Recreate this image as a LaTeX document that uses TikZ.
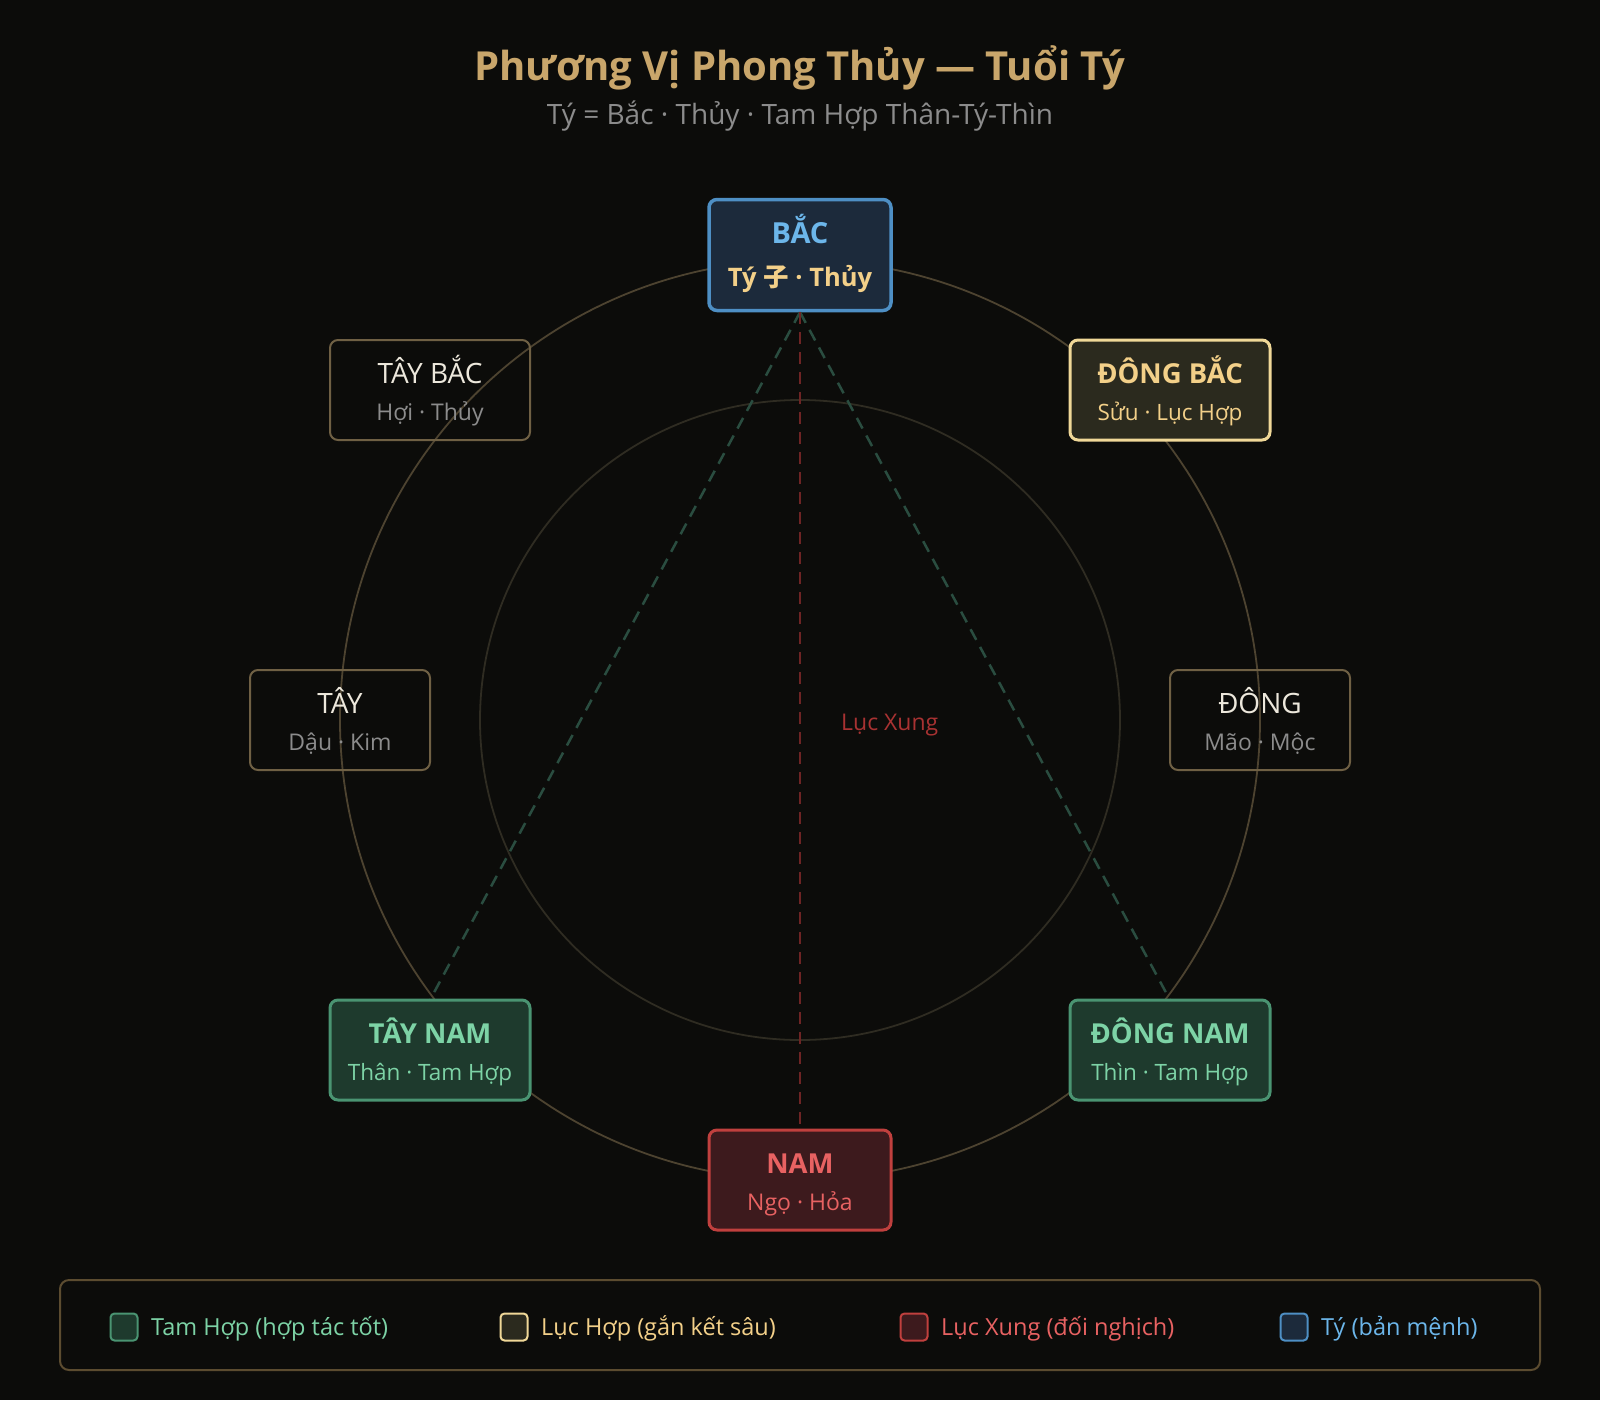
\documentclass[tikz,border=0pt]{standalone}
\usepackage{fontspec}
\setmainfont{Open Sans}
\newfontfamily\cjk{Noto Sans CJK SC}
\definecolor{bg}{HTML}{0C0C0A}
\definecolor{gold}{HTML}{C9A66B}
\definecolor{grayt}{HTML}{8C8C8C}
\definecolor{plainstroke}{HTML}{6F6044}
\definecolor{plaintext}{HTML}{EDE8DC}
\definecolor{outerc}{HTML}{4D4330}
\definecolor{innerc}{HTML}{2F2C22}
\definecolor{gfill}{HTML}{1E3A2D}
\definecolor{gstroke}{HTML}{4A9472}
\definecolor{gtext}{HTML}{7DD3A6}
\definecolor{yfill}{HTML}{2B2A1E}
\definecolor{ystroke}{HTML}{F0D898}
\definecolor{ytext}{HTML}{F3D089}
\definecolor{rfill}{HTML}{3D1A1D}
\definecolor{rstroke}{HTML}{C0403E}
\definecolor{rtext}{HTML}{E86262}
\definecolor{bfill}{HTML}{1C2A3B}
\definecolor{bstroke}{HTML}{4E8FC4}
\definecolor{btext}{HTML}{6CB6EA}
\definecolor{tamline}{HTML}{2A4D40}
\definecolor{xungline}{HTML}{6E2424}
\definecolor{xunglabel}{HTML}{A83232}
\definecolor{legstroke}{HTML}{5C4C30}
\tikzset{
  anybox/.style={rounded corners=8pt, inner sep=0pt},
  plain box/.style={anybox, draw=plainstroke, line width=2pt},
  plain title/.style={text=plaintext, font=\fontsize{28}{32}\selectfont},
  plain sub/.style={text=grayt, font=\fontsize{23}{27}\selectfont},
  green box/.style={anybox, draw=gstroke, fill=gfill, line width=3pt},
  green title/.style={text=gtext, font=\fontsize{27.5}{32}\selectfont\bfseries},
  green sub/.style={text=gtext, font=\fontsize{22.5}{26}\selectfont},
  yellow box/.style={anybox, draw=ystroke, fill=yfill, line width=3pt},
  yellow title/.style={text=ytext, font=\fontsize{27.5}{32}\selectfont\bfseries},
  yellow sub/.style={text=ytext, font=\fontsize{22.5}{26}\selectfont},
  red box/.style={anybox, draw=rstroke, fill=rfill, line width=3pt},
  red title/.style={text=rtext, font=\fontsize{27.5}{32}\selectfont\bfseries},
  red sub/.style={text=rtext, font=\fontsize{23}{27}\selectfont},
  blue box/.style={anybox, draw=bstroke, fill=bfill, line width=3.5pt},
  blue title/.style={text=btext, font=\fontsize{29}{33}\selectfont\bfseries},
  blue sub/.style={text=ytext, font=\fontsize{25.5}{29}\selectfont\bfseries},
  txt/.style={anchor=base, inner sep=0pt},
  tamhop/.style={draw=tamline, line width=2.5pt, dash pattern=on 12pt off 8pt},
  xung/.style={draw=xungline, line width=2.5pt, dash pattern=on 12pt off 8pt},
  legsq/.style={rounded corners=4pt, line width=2pt, minimum width=27pt, minimum height=27pt, inner sep=0pt},
  legtxt/.style={anchor=base west, inner sep=0pt, font=\fontsize{23.5}{27}\selectfont},
}
\newcommand\dirbox[8]{%
  \node[#6 box, minimum width=#4pt, minimum height=#5pt] (#1) at (#2,#3) {};
  \node[txt, #6 title] (#1-t) at ([yshift=7pt]#1.center) {#7};
  \node[txt, #6 sub] (#1-s) at ([yshift=-30pt]#1.center) {#8};
}
\begin{document}
\begin{tikzpicture}[x=1pt,y=-1pt]
\fill[bg] (0,0) rectangle (1600,1400);
\useasboundingbox (0,0) rectangle (1600,1400);

% title
\node[txt, text=gold, font=\fontsize{40}{46}\selectfont\bfseries] (title) at (800,80) {Phương Vị Phong Thủy — Tuổi Tý};
\node[txt, text=grayt, font=\fontsize{28}{32}\selectfont] (subtitle) at (800,124) {Tý = Bắc · Thủy · Tam Hợp Thân-Tý-Thìn};

% circles
\coordinate (ctr) at (800,720);
\draw[outerc, line width=1.8pt] (ctr) circle[radius=460];
\draw[innerc, line width=1.8pt] (ctr) circle[radius=320];

% nodes (boxes)
\node[blue box, minimum width=182pt, minimum height=111pt] (bac) at (800,255) {};
\dirbox{taybac}{430}{390}{200}{100}{plain}{TÂY BẮC}{Hợi · Thủy}
\dirbox{dongbac}{1170}{390}{200}{100}{yellow}{ĐÔNG BẮC}{Sửu · Lục Hợp}
\dirbox{tay}{340}{720}{180}{100}{plain}{TÂY}{Dậu · Kim}
\dirbox{dong}{1260}{720}{180}{100}{plain}{ĐÔNG}{Mão · Mộc}

% connectors (drawn before filled lower boxes)
\coordinate (tnTop) at (430,1000);
\coordinate (dnTop) at (1170,1000);
\coordinate (namTop) at (800,1128);
\draw[tamhop] (bac.south) -- (tnTop);
\draw[tamhop] (bac.south) -- (dnTop);
\draw[xung] (bac.south) -- (namTop);
\node[anchor=base west, inner sep=0pt, text=xunglabel, font=\fontsize{23}{27}\selectfont] (xunglbl) at (841,730) {Lục Xung};

\dirbox{taynam}{430}{1050}{200}{100}{green}{TÂY NAM}{Thân · Tam Hợp}
\dirbox{dongnam}{1170}{1050}{200}{100}{green}{ĐÔNG NAM}{Thìn · Tam Hợp}
\dirbox{nam}{800}{1180}{182}{100}{red}{NAM}{Ngọ · Hỏa}

% BAC text on top
\node[txt, blue title] (bac-t) at ([yshift=12pt]bac.center) {BẮC};
\node[txt, blue sub] (bac-s) at ([yshift=-31pt]bac.center) {Tý {\cjk\bfseries 子} · Thủy};

% legend
\draw[legstroke, line width=2pt, rounded corners=9pt] (60,1280) rectangle (1540,1370);
\node[legsq, draw=gstroke, fill=gfill] (lg1) at (124,1327) {};
\node[legtxt, text=gtext] (lg1t) at (151,1335) {Tam Hợp (hợp tác tốt)};
\node[legsq, draw=ystroke, fill=yfill] (lg2) at (514,1327) {};
\node[legtxt, text=ytext] (lg2t) at (541,1335) {Lục Hợp (gắn kết sâu)};
\node[legsq, draw=rstroke, fill=rfill] (lg3) at (914,1327) {};
\node[legtxt, text=rtext] (lg3t) at (941,1335) {Lục Xung (đối nghịch)};
\node[legsq, draw=bstroke, fill=bfill] (lg4) at (1294,1327) {};
\node[legtxt, text=btext] (lg4t) at (1321,1335) {Tý (bản mệnh)};
\end{tikzpicture}
\end{document}
